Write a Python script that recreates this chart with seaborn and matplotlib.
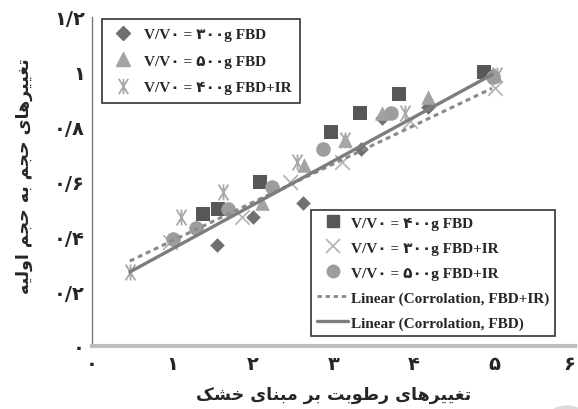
import numpy as np
import pandas as pd
import matplotlib
matplotlib.use("Agg")
import matplotlib.pyplot as plt
import seaborn as sns
from matplotlib.lines import Line2D
from matplotlib.path import Path
from matplotlib.patches import Circle
from matplotlib import font_manager
from matplotlib.font_manager import FontProperties
from matplotlib.ft2font import FT2Font

# ---------------- data ----------------
x_300_fbd = [1.55, 2.00, 2.62, 3.34, 3.60, 4.17, 4.98]
y_300_fbd = [0.37, 0.47, 0.52, 0.72, 0.83, 0.87, 0.99]

x_500_fbd = [2.11, 2.63, 3.14, 3.60, 4.17, 5.00]
y_500_fbd = [0.52, 0.66, 0.75, 0.85, 0.91, 0.99]

x_400_ir = [0.47, 1.11, 1.63, 2.55, 3.14, 3.89, 5.03]
y_400_ir = [0.27, 0.47, 0.56, 0.67, 0.75, 0.85, 0.99]

x_400_fbd = [1.38, 1.57, 2.09, 2.97, 3.33, 3.81, 4.87]
y_400_fbd = [0.48, 0.50, 0.60, 0.78, 0.85, 0.92, 1.00]

x_300_ir = [0.97, 1.86, 2.46, 3.11, 3.95, 5.00]
y_300_ir = [0.38, 0.47, 0.60, 0.67, 0.82, 0.94]

x_500_ir = [1.01, 1.29, 1.69, 2.24, 2.87, 3.71, 4.98]
y_500_ir = [0.39, 0.43, 0.50, 0.58, 0.72, 0.85, 0.98]

trend_x = [0.47, 4.97]
trend_fbd = [0.27, 0.99]
trend_ir = [0.31, 0.94]

x_ticks = [0, 1, 2, 3, 4, 5, 6]
x_tick_labels = ["۰", "۱", "۲", "۳", "۴", "۵", "۶"]
y_ticks = [0, 0.2, 0.4, 0.6, 0.8, 1.0, 1.2]
y_tick_labels = ["۰", "۰/۲", "۰/۴", "۰/۶", "۰/۸", "۱", "۱/۲"]

labels = [
    "V/V۰ = ۳۰۰g FBD",
    "V/V۰ = ۵۰۰g FBD",
    "V/V۰ = ۴۰۰g FBD+IR",
    "V/V۰ = ۴۰۰g FBD",
    "V/V۰ = ۳۰۰g FBD+IR",
    "V/V۰ = ۵۰۰g FBD+IR",
    "Linear (Corrolation, FBD+IR)",
    "Linear (Corrolation, FBD)",
]
x_title = "تغییرهای رطوبت بر مبنای خشک"
y_title = "تغییرهای حجم به حجم اولیه"

# ---------------- simple Persian shaping ----------------
bold_path = font_manager.findfont(FontProperties(family="DejaVu Sans", weight="bold"))
cmap = FT2Font(bold_path).get_charmap()

FORMS = {
    "ا": ("\uFE8D", "\uFE8E", None, None),
    "ب": ("\uFE8F", "\uFE90", "\uFE91", "\uFE92"),
    "ت": ("\uFE95", "\uFE96", "\uFE97", "\uFE98"),
    "ج": ("\uFE9D", "\uFE9E", "\uFE9F", "\uFEA0"),
    "ح": ("\uFEA1", "\uFEA2", "\uFEA3", "\uFEA4"),
    "خ": ("\uFEA5", "\uFEA6", "\uFEA7", "\uFEA8"),
    "ر": ("\uFEAD", "\uFEAE", None, None),
    "ش": ("\uFEB5", "\uFEB6", "\uFEB7", "\uFEB8"),
    "ط": ("\uFEC1", "\uFEC2", "\uFEC3", "\uFEC4"),
    "غ": ("\uFECD", "\uFECE", "\uFECF", "\uFED0"),
    "ل": ("\uFEDD", "\uFEDE", "\uFEDF", "\uFEE0"),
    "م": ("\uFEE1", "\uFEE2", "\uFEE3", "\uFEE4"),
    "ن": ("\uFEE5", "\uFEE6", "\uFEE7", "\uFEE8"),
    "ه": ("\uFEE9", "\uFEEA", "\uFEEB", "\uFEEC"),
    "و": ("\uFEED", "\uFEEE", None, None),
}
if 0xFBFC in cmap:
    FORMS["ی"] = ("\uFBFC", "\uFBFD", "\uFBFE", "\uFBFF")
else:
    FORMS["ی"] = ("\uFEEF", "\uFEF0", "\uFEF3", "\uFEF4")
if 0xFB8E in cmap:
    FORMS["ک"] = ("\uFB8E", "\uFB8F", "\uFB90", "\uFB91")
else:
    FORMS["ک"] = ("\uFED9", "\uFEDA", "\uFEDB", "\uFEDC")


def shape(text):
    out = []
    n = len(text)
    for i, ch in enumerate(text):
        if ch not in FORMS:
            out.append(ch)
            continue
        prev = text[i - 1] if i > 0 else None
        nxt = text[i + 1] if i < n - 1 else None
        jp = prev in FORMS and FORMS[prev][2] is not None
        jn = nxt in FORMS and FORMS[ch][2] is not None
        f = FORMS[ch]
        if jp and jn:
            out.append(f[3])
        elif jp:
            out.append(f[1])
        elif jn:
            out.append(f[2])
        else:
            out.append(f[0])
    return "".join(out)[::-1]


# ---------------- figure ----------------
sns.set_theme(style="white")
plt.rcParams["font.family"] = ["DejaVu Sans"]

fig = plt.figure(figsize=(5.78, 4.10), dpi=100)
ax = fig.add_axes([92 / 578, 1 - 347 / 410, 483 / 578, 329 / 410])

asterisk = Path(
    [(0, -1), (0, 1), (-0.62, -1), (0.62, 1), (-0.62, 1), (0.62, -1)],
    [Path.MOVETO, Path.LINETO, Path.MOVETO, Path.LINETO, Path.MOVETO, Path.LINETO],
)

c_dia = "#707070"
c_tri = "#a3a3a3"
c_ast = "#a8a8a8"
c_sq = "#575757"
c_x = "#b5b5b5"
c_cir = "#9d9d9d"

sns.scatterplot(x=x_300_fbd, y=y_300_fbd, marker="D", s=55, color=c_dia,
                edgecolor=c_dia, linewidth=0, ax=ax, zorder=2)
sns.scatterplot(x=x_500_fbd, y=y_500_fbd, marker="^", s=110, color=c_tri,
                edgecolor=c_tri, linewidth=0, ax=ax, zorder=2)
sns.scatterplot(x=x_400_ir, y=y_400_ir, marker=asterisk, s=130, color=c_ast,
                edgecolor=c_ast, linewidth=1.3, ax=ax, zorder=2)
sns.scatterplot(x=x_400_fbd, y=y_400_fbd, marker="s", s=100, color=c_sq,
                edgecolor=c_sq, linewidth=0, ax=ax, zorder=2)
sns.scatterplot(x=x_300_ir, y=y_300_ir, marker="x", s=110, color=c_x,
                edgecolor=c_x, linewidth=1.3, ax=ax, zorder=2)
sns.scatterplot(x=x_500_ir, y=y_500_ir, marker="o", s=110, color=c_cir,
                edgecolor=c_cir, linewidth=0, ax=ax, zorder=2)

sns.lineplot(x=trend_x, y=trend_ir, color="#8a8a8a", linewidth=2.2,
             linestyle=(0, (1.6, 1.3)), ax=ax, zorder=3)
sns.lineplot(x=trend_x, y=trend_fbd, color="#7d7d7d", linewidth=2.4,
             ax=ax, zorder=3)

ax.set_xlim(0, 6)
ax.set_ylim(0, 1.2)
ax.set_xticks(x_ticks)
ax.set_xticklabels(x_tick_labels, fontsize=14, fontweight="bold")
ax.get_xticklabels()[-1].set_horizontalalignment("right")
ax.set_yticks(y_ticks)
ax.set_yticklabels(y_tick_labels, fontsize=14, fontweight="bold")
ax.tick_params(axis="both", length=0)
ax.tick_params(axis="x", pad=6)
ax.tick_params(axis="y", pad=5)

for s in ["top", "right"]:
    ax.spines[s].set_visible(False)
ax.spines["left"].set_color("#7a7a7a")
ax.spines["left"].set_linewidth(1.0)
ax.spines["bottom"].set_color("#bdbdbd")
ax.spines["bottom"].set_linewidth(3.0)

ax.set_xlabel(shape(x_title), fontsize=12.5, fontweight="bold")
ax.set_ylabel(shape(y_title), fontsize=12.5, fontweight="bold")
ax.xaxis.set_label_coords(0.5, -0.12)
ax.yaxis.set_label_coords(-0.122, 0.52)

# ---------------- legends ----------------
legend_font = {"family": ["Liberation Serif", "DejaVu Sans"], "weight": "bold", "size": 11}

h1 = [
    Line2D([], [], marker="D", color=c_dia, linestyle="none", markersize=7),
    Line2D([], [], marker="^", color=c_tri, linestyle="none", markersize=10),
    Line2D([], [], marker=asterisk, color=c_ast, linestyle="none", markersize=11,
           markeredgewidth=1.3),
]
leg1 = ax.legend(h1, labels[0:3], loc="upper left", bbox_to_anchor=(0.021, 0.994),
                 borderaxespad=0, prop=legend_font, frameon=True, fancybox=False,
                 edgecolor="black", handlelength=1.6, handletextpad=0.6,
                 labelspacing=0.85, borderpad=0.55)
leg1.get_frame().set_linewidth(1.2)
ax.add_artist(leg1)

h2 = [
    Line2D([], [], marker="s", color=c_sq, linestyle="none", markersize=9),
    Line2D([], [], marker="x", color=c_x, linestyle="none", markersize=10,
           markeredgewidth=1.3),
    Line2D([], [], marker="o", color=c_cir, linestyle="none", markersize=9),
    Line2D([], [], color="#8a8a8a", linewidth=2.0, linestyle=(0, (1.6, 1.3))),
    Line2D([], [], color="#7d7d7d", linewidth=2.4),
]
leg2 = ax.legend(h2, labels[3:8], loc="lower right", bbox_to_anchor=(0.959, 0.030),
                 borderaxespad=0, prop=legend_font, frameon=True, fancybox=False,
                 edgecolor="black", handlelength=2.0, handletextpad=0.2,
                 labelspacing=0.74, borderpad=0.4)
leg2.get_frame().set_linewidth(1.2)

# faint corner artifact
fig.patches.append(Circle((567 / 578, 1 - 422 / 410), 22 / 578, transform=fig.transFigure,
                          facecolor="#dcdcdc", edgecolor="none"))

fig.savefig("out.png", dpi=100, facecolor="white")
